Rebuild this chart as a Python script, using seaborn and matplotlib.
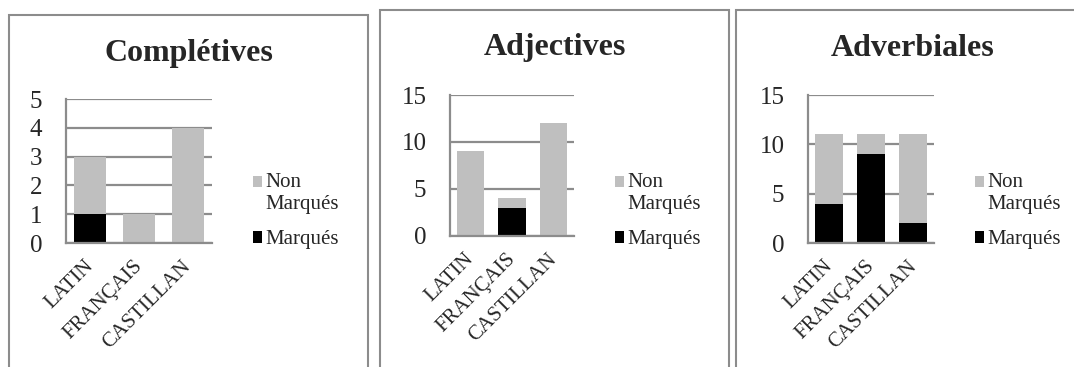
import numpy as np
import seaborn as sns
import matplotlib.pyplot as plt
from matplotlib.patches import Rectangle
from matplotlib.transforms import ScaledTranslation

# Donnees
langues = ["LATIN", "FRANÇAIS", "CASTILLAN"]
titres = ["Complétives", "Adjectives", "Adverbiales"]

completives_marques = [1, 0, 0]
completives_non_marques = [2, 1, 4]
adjectives_marques = [0, 3, 0]
adjectives_non_marques = [9, 1, 12]
adverbiales_marques = [4, 9, 2]
adverbiales_non_marques = [7, 2, 9]

y_max = [5, 15, 15]
y_pas = [1, 5, 5]

GRIS = "#BFBFBF"
NOIR = "#000000"
LIGNE = "#8C8C8C"

W, H = 1074, 367

if __name__ == "__main__":
    sns.set_style("white")
    plt.rcParams["font.family"] = ["Liberation Serif", "DejaVu Serif"]

    fig = plt.figure(figsize=(W / 100, H / 100), dpi=100)

    marques = [completives_marques, adjectives_marques, adverbiales_marques]
    non_marques = [completives_non_marques, adjectives_non_marques, adverbiales_non_marques]

    # positions en pixels : (gauche, droite, haut, bas) des axes
    axes_px = [(66, 212, 99, 243), (450, 574, 95, 236), (808, 934, 95, 243)]
    cadres_px = [(9, 368, 15), (380, 729, 10), (736, 1085, 10)]
    titre_px = [(189, 53), (555, 48), (913, 48)]
    legende_px = [(253, 173), (615, 173), (975, 173)]

    decalage = ScaledTranslation(-0.06, 0, fig.dpi_scale_trans)

    for i in range(3):
        g, d, h, b = axes_px[i]
        ax = fig.add_axes([g / W, 1 - b / H, (d - g) / W, (b - h) / H])

        total = np.array(marques[i]) + np.array(non_marques[i])
        sns.barplot(x=langues, y=total, color=GRIS, saturation=1, width=0.66,
                    linewidth=0, ax=ax, label="Non\nMarqués")
        sns.barplot(x=langues, y=marques[i], color=NOIR, saturation=1, width=0.66,
                    linewidth=0, ax=ax, label="Marqués")

        ax.set_ylim(0, y_max[i])
        ax.set_xlim(-0.5, 2.5)
        ax.set_yticks(np.arange(0, y_max[i] + 1, y_pas[i]))
        ax.yaxis.grid(True, color=LIGNE, linewidth=1.6)
        ax.set_axisbelow(True)
        for s in ["top", "right"]:
            ax.spines[s].set_visible(False)
        for s in ["left", "bottom"]:
            ax.spines[s].set_color(LIGNE)
            ax.spines[s].set_linewidth(1.6)
        ax.tick_params(axis="y", labelsize=18, length=0, pad=17)
        ax.tick_params(axis="x", labelsize=15, length=0, pad=10)
        for lab in ax.get_xticklabels():
            lab.set_rotation(45)
            lab.set_ha("right")
            lab.set_rotation_mode("anchor")
            lab.set_transform(lab.get_transform() + decalage)

        # legende, ordre : Non Marqués puis Marqués
        poignees, etiquettes = ax.get_legend_handles_labels()
        lx, ly = legende_px[i]
        leg = ax.legend(poignees, etiquettes, loc="upper left",
                        bbox_to_anchor=(lx / W, 1 - ly / H), bbox_transform=fig.transFigure,
                        frameon=False, fontsize=15, handlelength=0.45, handleheight=0.45,
                        handletextpad=0.15, labelspacing=0.8, borderpad=0, borderaxespad=0)
        # carre gris aligne sur la premiere ligne "Non"
        carre = leg.legend_handles[0]
        carre.set_y(carre.get_y() + 8.5)

        tx, ty = titre_px[i]
        fig.text(tx / W, 1 - ty / H, titres[i], ha="center", va="center",
                 fontsize=23, fontweight="bold")

        cg, cd, ch = cadres_px[i]
        fig.patches.append(Rectangle((cg / W, -0.1), (cd - cg) / W, 1.1 - ch / H,
                                     transform=fig.transFigure, fill=False,
                                     edgecolor=LIGNE, linewidth=1.5, clip_on=False))

    plt.savefig("out.png", dpi=100)
